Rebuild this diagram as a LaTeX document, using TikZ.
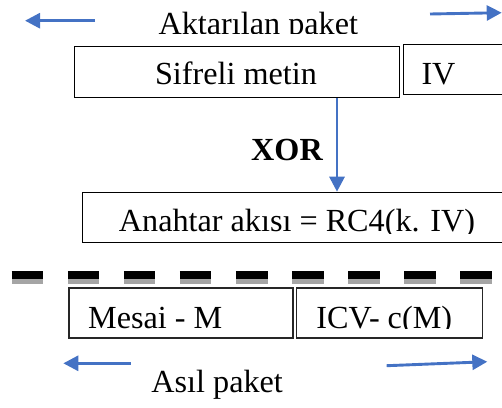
\documentclass[tikz,border=0pt]{standalone}
\usepackage{fontspec}
\setmainfont{Liberation Serif}
\usetikzlibrary{arrows.meta}
\definecolor{arrowblue}{RGB}{68,114,196}
\definecolor{shadowgray}{RGB}{165,165,165}
\begin{document}
\begin{tikzpicture}[x=1pt,y=-1pt,
  box/.style={draw=black,line width=1pt,rectangle,inner sep=0pt,anchor=north west},
  pbox/.style={box,draw=black!85,line width=1.4pt},
  lbl/.style={font=\fontsize{32.2}{38}\selectfont,inner sep=0pt,anchor=base},
  flow/.style={draw=arrowblue,line width=2.9pt,-{Triangle[length=15pt,width=15pt]}},
]
\useasboundingbox (0,0) rectangle (502,407);

% packet fields
\node[box,minimum width=325pt,minimum height=51pt] (sif) at (74,46) {};
\node[box,minimum width=120pt,minimum height=50pt] (iv) at (403,44) {};
\node[box,minimum width=440pt,minimum height=50pt] (ana) at (82,191.7) {};
\node[pbox,minimum width=224pt,minimum height=50pt] (msg) at (68.3,287.3) {};
\node[pbox,minimum width=186pt,minimum height=50pt] (icv) at (296,287.3) {};

% labels (some are cut off at the bottom by their frames)
\begin{scope}
  \clip (0,0) rectangle (502,33.5);
  \node[lbl] (tx) at (258.3,34.5) {Aktarılan paket};
\end{scope}
\node[lbl] (tsif) at (236,84.5) {Sifreli metin};
\node[lbl] (tiv) at (438.5,84.5) {IV};
\node[lbl,font=\fontsize{32.2}{38}\selectfont\bfseries] (txor) at (287,160) {XOR};
\begin{scope}
  \clip (0,0) rectangle (502,233);
  \node[lbl] (tana) at (297,231.5) {Anahtar akısı = RC4(k. IV)};
\end{scope}
\begin{scope}
  \clip (0,0) rectangle (502,328.5);
  \node[lbl] (tmsg) at (155.3,328) {Mesai - M};
  \node[lbl] (ticv) at (384.3,328) {ICV- c(M)};
\end{scope}
\node[lbl] (tasil) at (217.2,392) {Asıl paket};

% XOR flow
\coordinate (xa) at (337,0);
\draw[flow] (sif.south -| xa) -- (ana.north -| xa);

% separator
\draw[shadowgray,line width=9pt,dash pattern=on 31.6pt off 24.45pt] (11.7,279.5) -- (491.7,279.5);
\draw[black,line width=8.3pt,dash pattern=on 31.6pt off 24.45pt] (11.7,275.2) -- (491.7,275.2);

% extent arrows
\coordinate (a1s) at (95,20.7);    \coordinate (a1e) at (25,20.7);
\coordinate (a2s) at (430,14);     \coordinate (a2e) at (501.7,12.7);
\coordinate (a3s) at (130.7,363.3); \coordinate (a3e) at (63.3,363.3);
\coordinate (a4s) at (386.7,365.7); \coordinate (a4e) at (487.3,361.7);
\draw[flow] (a1s) -- (a1e);
\draw[flow] (a2s) -- (a2e);
\draw[flow] (a3s) -- (a3e);
\draw[flow] (a4s) -- (a4e);
\end{tikzpicture}
\end{document}
